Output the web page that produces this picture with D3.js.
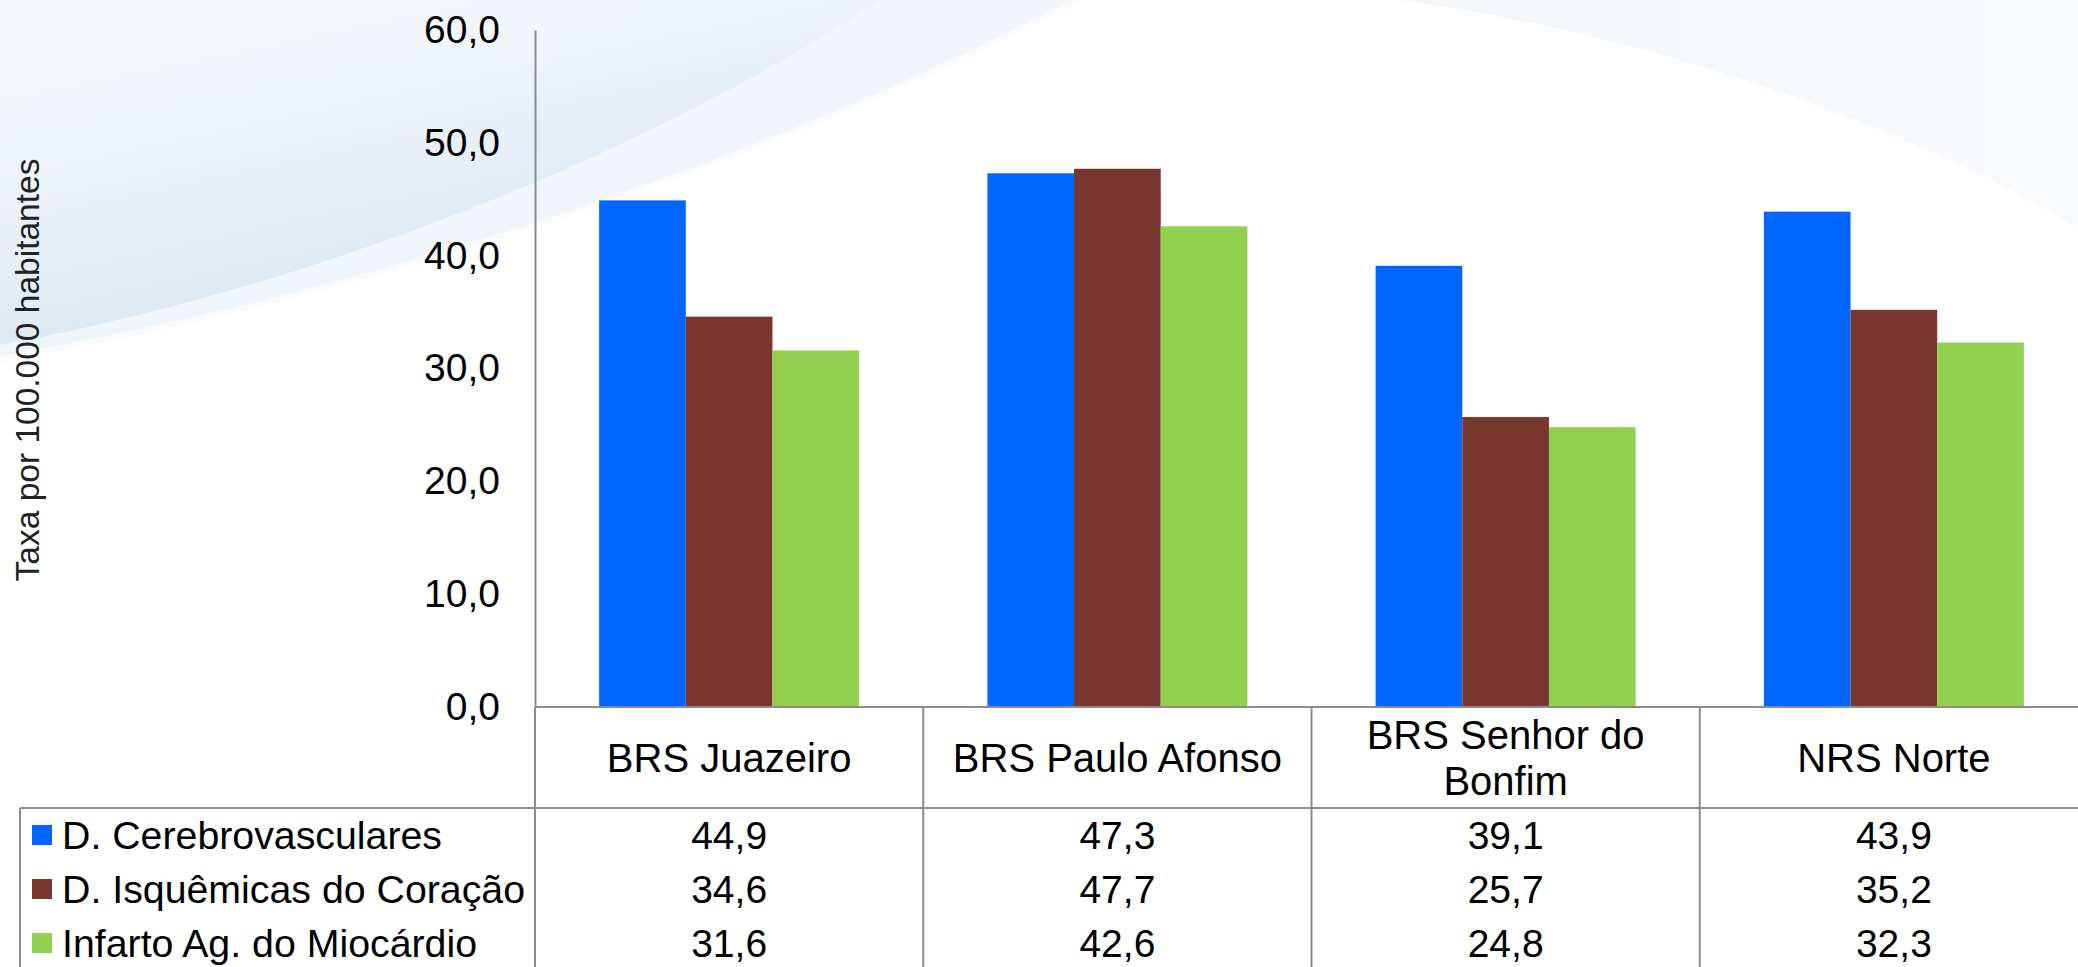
<!DOCTYPE html>
<html>
<head>
<meta charset="utf-8">
<script src="https://cdn.jsdelivr.net/npm/d3@7"></script>
<style>
  body { margin: 0; background: #fff; }
  svg text { font-family: "Liberation Sans", Arial, sans-serif; fill: #000; }
</style>
</head>
<body>
<div id="chart"></div>
<script>
const categories = ["BRS Juazeiro", "BRS Paulo Afonso", "BRS Senhor do Bonfim", "NRS Norte"];
const seriesNames = ["D. Cerebrovasculares", "D. Isquêmicas do Coração", "Infarto Ag. do Miocárdio"];
const cerebro = [44.9, 47.3, 39.1, 43.9];
const isquemicas = [34.6, 47.7, 25.7, 35.2];
const infarto = [31.6, 42.6, 24.8, 32.3];
const yTicks = [0, 10, 20, 30, 40, 50, 60];
const colors = ["#0066ff", "#783830", "#92d050"];
const yTitle = "Taxa por 100.000 habitantes";

const width = 2078, height = 967;
const plot = { left: 535, right: 2088, top: 30, bottom: 707 };
const tableTop = 808, tableLeft = 20;
const lineColor = "#8c8c8c";

const values = [cerebro, isquemicas, infarto];
const data = categories.map((c, i) => ({
    cat: c,
    vals: seriesNames.map((s, j) => ({ key: s, value: values[j][i], color: colors[j] }))
}));

const fmt = d3.formatLocale({ decimal: ",", thousands: ".", grouping: [3], currency: ["", ""] }).format(".1f");

const svg = d3.select("#chart").append("svg")
    .attr("width", width)
    .attr("height", height);

// background swoosh (soft)
const defs = svg.append("defs");
const g1 = defs.append("linearGradient").attr("id", "bgOuter")
    .attr("x1", 0).attr("y1", 0).attr("x2", 1).attr("y2", 0);
g1.append("stop").attr("offset", 0).attr("stop-color", "#f0f5f9");
g1.append("stop").attr("offset", 0.5).attr("stop-color", "#f2f6fa");
g1.append("stop").attr("offset", 1).attr("stop-color", "#f8fafc");
const g2 = defs.append("linearGradient").attr("id", "bgInner")
    .attr("x1", 0).attr("y1", 0).attr("x2", 0.55).attr("y2", 1);
g2.append("stop").attr("offset", 0).attr("stop-color", "#ffffff").attr("stop-opacity", 0.3);
g2.append("stop").attr("offset", 0.5).attr("stop-color", "#e8f0f7").attr("stop-opacity", 0.9);
g2.append("stop").attr("offset", 0.85).attr("stop-color", "#dbe8f2").attr("stop-opacity", 1);
g2.append("stop").attr("offset", 1).attr("stop-color", "#e6eef6").attr("stop-opacity", 1);

svg.append("path")
    .attr("d", "M0,0 L0,362 C350,300 760,170 1080,0 Z M1080,0 L1400,0 C1620,30 1880,110 2078,228 L2078,0 Z")
    .attr("fill", "url(#bgOuter)");
svg.append("path")
    .attr("d", "M0,0 L0,345 C300,290 640,160 880,0 Z")
    .attr("fill", "url(#bgInner)");
svg.append("path")
    .attr("d", "M0,360 C350,300 760,170 1080,0")
    .attr("fill", "none").attr("stroke", "#ffffff").attr("stroke-width", 8).attr("opacity", 0.6);

// scales
const x0 = d3.scaleBand().domain(categories).range([plot.left, plot.right]).padding(0);
const x1 = d3.scaleBand().domain(seriesNames).range([0, x0.bandwidth()]).paddingInner(0).paddingOuter(0.74);
const y = d3.scaleLinear().domain([0, 60]).range([plot.bottom, plot.top]);
const rowY = d3.scaleBand().domain(seriesNames).range([tableTop, tableTop + 162]);

// bars
svg.append("g").selectAll("g")
    .data(data)
    .join("g")
    .attr("transform", d => `translate(${x0(d.cat)},0)`)
    .selectAll("rect")
    .data(d => d.vals)
    .join("rect")
    .attr("x", d => x1(d.key))
    .attr("y", d => y(d.value))
    .attr("width", x1.bandwidth())
    .attr("height", d => y(0) - y(d.value))
    .attr("fill", d => d.color);

// y axis
const yAxisG = svg.append("g")
    .attr("transform", `translate(${plot.left},0)`)
    .call(d3.axisLeft(y).tickValues(yTicks).tickFormat(fmt).tickSize(0).tickPadding(35));
yAxisG.select(".domain").attr("stroke", lineColor).attr("stroke-width", 2);
yAxisG.selectAll("text")
    .attr("font-size", "39px")
    .attr("font-family", "Liberation Sans, Arial, sans-serif")
    .attr("fill", "#000");

// y axis title
svg.append("text")
    .attr("transform", `translate(39,370) rotate(-90)`)
    .attr("text-anchor", "middle")
    .attr("font-size", "33.5px")
    .style("fill", "#222")
    .text(yTitle);

// data table lines
const grid = svg.append("g").attr("stroke", lineColor).attr("stroke-width", 2);
grid.append("line").attr("x1", plot.left).attr("x2", width).attr("y1", plot.bottom).attr("y2", plot.bottom);
grid.append("line").attr("x1", tableLeft).attr("x2", width).attr("y1", tableTop).attr("y2", tableTop);
grid.append("line").attr("x1", tableLeft).attr("x2", tableLeft).attr("y1", tableTop).attr("y2", height);
grid.selectAll("line.div")
    .data(categories.concat(["_end"]))
    .join("line")
    .attr("class", "div")
    .attr("x1", d => d === "_end" ? plot.right : x0(d))
    .attr("x2", d => d === "_end" ? plot.right : x0(d))
    .attr("y1", plot.bottom)
    .attr("y2", height);

// category labels (wrapped)
const catG = svg.append("g");
categories.forEach(c => {
    const cx = x0(c) + x0.bandwidth() / 2;
    const t = catG.append("text")
        .attr("text-anchor", "middle")
        .attr("font-size", "40px");
    const words = c.split(" ");
    const lines = [];
    let line = [];
    const probe = catG.append("text").attr("font-size", "40px");
    words.forEach(w => {
        line.push(w);
        probe.text(line.join(" "));
        if (probe.node().getComputedTextLength() > x0.bandwidth() - 30 && line.length > 1) {
            line.pop();
            lines.push(line.join(" "));
            line = [w];
        }
    });
    lines.push(line.join(" "));
    probe.remove();
    const lh = 46;
    const mid = (plot.bottom + tableTop) / 2;
    lines.forEach((l, i) => {
        t.append("tspan")
            .attr("x", cx)
            .attr("y", mid + (i - (lines.length - 1) / 2) * lh + 14)
            .text(l);
    });
});

// legend keys + values
const rows = svg.append("g").selectAll("g")
    .data(seriesNames)
    .join("g")
    .attr("transform", d => `translate(0,${rowY(d) + rowY.bandwidth() / 2})`);
rows.append("rect")
    .attr("x", 32).attr("y", -10)
    .attr("width", 20).attr("height", 20)
    .attr("fill", (d, i) => colors[i]);
rows.append("text")
    .attr("x", 62).attr("y", 14)
    .attr("font-size", "39.3px")
    .text(d => d);
rows.each(function (s, j) {
    d3.select(this).selectAll("text.val")
        .data(values[j])
        .join("text")
        .attr("class", "val")
        .attr("x", (v, i) => x0(categories[i]) + x0.bandwidth() / 2)
        .attr("y", 14)
        .attr("text-anchor", "middle")
        .attr("font-size", "39px")
        .text(v => fmt(v));
});
</script>
</body>
</html>
